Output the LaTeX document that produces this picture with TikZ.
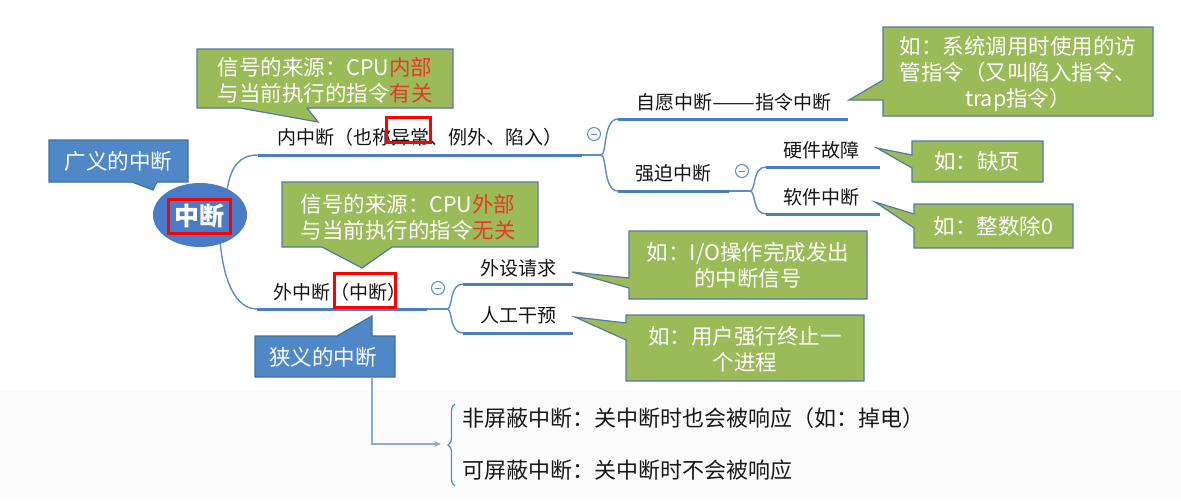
\documentclass[tikz,border=0pt]{standalone}
\usepackage{fontspec}
\usepackage{graphicx}
\setmainfont{Noto Sans CJK SC}
\usetikzlibrary{arrows.meta,decorations.pathreplacing,shapes.geometric}

\definecolor{lineblue}{HTML}{4A7EC4}
\definecolor{curveblue}{HTML}{5B8BCB}
\definecolor{calgreen}{HTML}{9BBB59}
\definecolor{calborder}{HTML}{5579A6}
\definecolor{calblue}{HTML}{4F87C7}
\definecolor{calblueborder}{HTML}{41719C}
\definecolor{rootblue}{HTML}{4A7BC6}
\definecolor{hlred}{HTML}{FF0000}
\definecolor{notered}{HTML}{E63A2B}
\definecolor{arrowgray}{HTML}{8EAAD6}
\definecolor{bggray}{HTML}{FBFBFB}

\begin{document}
\begin{tikzpicture}[x=1pt,y=-1pt,
  topic/.style={anchor=west, inner sep=0pt, font=\fontsize{19}{23}\selectfont, text=black!92},
  underline/.style={draw=lineblue, line width=3pt},
  branch/.style={draw=curveblue, line width=1.4pt},
  greenbox/.style={fill=calgreen, draw=calborder, line width=1.2pt, line join=miter},
  bluebox/.style={fill=calblue, draw=calblueborder, line width=1.2pt, line join=miter},
  notetext/.style={inner sep=0pt, align=center, text=white, font=\fontsize{21.5}{26}\selectfont},
  plaintext/.style={anchor=west, inner sep=0pt, text=black!90, font=\fontsize{22}{26}\selectfont},
  expander/.style={circle, draw=curveblue, fill=white, line width=1pt, minimum size=13pt, inner sep=0pt,
    path picture={\draw[curveblue, line width=1pt]
      ([xshift=-3pt]path picture bounding box.center) -- ([xshift=3pt]path picture bounding box.center);}},
  marker/.style={draw=hlred, line width=3pt, inner sep=0pt},
  arrowline/.style={draw=arrowgray, line width=1.5pt},
]
\useasboundingbox (0,0) rectangle (1181,501);
\fill[white] (0,0) rectangle (1181,501);
\fill[bggray] (0,390) rectangle (1181,501);

% ---------- root ----------
\node[ellipse, fill=rootblue, minimum width=94pt, minimum height=64pt, inner sep=0pt] (root) at (200,215) {};
\node[text=white, inner sep=0pt, font=\fontsize{25}{25}\selectfont\bfseries] (roottext) at (199,216) {中断};
\node[marker, minimum width=62pt, minimum height=34pt] (rootmark) at (199,216) {};

% ---------- topics ----------
\node[topic] (t1) at (277,137) {内中断（也称异常、例外、陷入）};
\coordinate (t1l) at (258,155); \coordinate (t1r) at (582,155);
\node[topic] (t2) at (636,102) {自愿中断\scalebox{1.35}[1]{——}指令中断};
\coordinate (t2l) at (618,119); \coordinate (t2r) at (848,119);
\node[topic] (t3) at (635,173) {强迫中断};
\coordinate (t3l) at (618,191); \coordinate (t3r) at (729,191);
\node[topic] (t4) at (783,150) {硬件故障};
\coordinate (t4l) at (766,167); \coordinate (t4r) at (880,167);
\node[topic] (t5) at (783,197) {软件中断};
\coordinate (t5l) at (766,214); \coordinate (t5r) at (880,214);
\node[topic] (t6) at (273,292) {外中断（中断）};
\coordinate (t6l) at (257,309); \coordinate (t6r) at (427,309);
\node[topic] (t7) at (480,268) {外设请求};
\coordinate (t7l) at (463,284); \coordinate (t7r) at (573,284);
\node[topic] (t8) at (480,315) {人工干预};
\coordinate (t8l) at (463,333); \coordinate (t8r) at (573,333);

\foreach \t in {t1,t2,t3,t4,t5,t6,t7,t8} \draw[underline] (\t l) -- (\t r);

% junctions
\coordinate (j1) at (601,155);
\coordinate (j2) at (750,191);
\coordinate (j3) at (447,309);

% ---------- connectors ----------
\draw[branch] (root.44) .. controls (231,167) and (239,155) .. (t1l);
\draw[branch] (root.-55) .. controls (224,282) and (236,309) .. (t6l);
\draw[branch] (t1r) -- (j1);
\draw[branch] (j1) .. controls (607,155) and (603,119) .. (t2l);
\draw[branch] (j1) .. controls (607,155) and (603,191) .. (t3l);
\draw[branch] (t3r) -- (j2);
\draw[branch] (j2) .. controls (756,191) and (752,167) .. (t4l);
\draw[branch] (j2) .. controls (756,191) and (752,214) .. (t5l);
\draw[branch] (t6r) -- (j3);
\draw[branch] (j3) .. controls (453,309) and (449,284) .. (t7l);
\draw[branch] (j3) .. controls (453,309) and (449,333) .. (t8l);

% collapse buttons
\node[expander] (e1) at (594,134) {};
\node[expander] (e2) at (742,171) {};
\node[expander] (e3) at (438,288) {};

% highlight frames
\node[marker, minimum width=44pt, minimum height=25pt] (mark1) at (408,129.5) {};
\node[marker, minimum width=61pt, minimum height=34pt] (mark2) at (364.5,290) {};

% ---------- blue callouts ----------
\draw[bluebox] (49,140) -- (188,140) -- (188,182) -- (157,182) -- (153,190) -- (132,182) -- (49,182) -- cycle;
\node[notetext] (broad) at (118.5,161) {广义的中断};

\draw[bluebox] (255,336) -- (337,336) -- (372,316) -- (372,336) -- (395,336) -- (395,377) -- (255,377) -- cycle;
\node[notetext] (narrow) at (323,357) {狭义的中断};

% ---------- green callouts ----------
\draw[greenbox] (197,49) -- (453,49) -- (453,108) -- (307,108) -- (318,122) -- (240,108) -- (197,108) -- cycle;
\node[notetext] (noteA) at (325,80) {信号的来源：CPU\textcolor{notered}{内部}\\与当前执行的指令\textcolor{notered}{有关}};

\draw[greenbox] (282,182) -- (538,182) -- (538,247) -- (392,247) -- (362,268) -- (322,247) -- (282,247) -- cycle;
\node[notetext] (noteB) at (408,217.5) {信号的来源：CPU\textcolor{notered}{外部}\\与当前执行的指令\textcolor{notered}{无关}};

\draw[greenbox] (883,27) -- (1153,27) -- (1153,116) -- (883,116) -- (883,100) -- (849,100) -- (883,80) -- cycle;
\node[notetext] (noteC) at (1018,74) {如：系统调用时使用的访\\管指令（又叫陷入指令、\\trap指令）};

\draw[greenbox] (912,141) -- (1043,141) -- (1043,182) -- (912,182) -- (912,168) -- (877,148) -- (912,155) -- cycle;
\node[notetext] (noteD) at (977,161.5) {如：缺页};

\draw[greenbox] (914,204) -- (1073,204) -- (1073,248) -- (914,248) -- (914,228) -- (875,202) -- (914,214) -- cycle;
\node[notetext] (noteE) at (993.5,226) {如：整数除0};

\draw[greenbox] (629,231) -- (867,231) -- (867,299) -- (629,299) -- (629,288) -- (572,272) -- (629,278) -- cycle;
\node[notetext] (noteF) at (748,265) {如：I/O操作完成发出\\的中断信号};

\draw[greenbox] (626,315) -- (864,315) -- (864,381) -- (626,381) -- (626,340) -- (575,317) -- (626,323) -- cycle;
\node[notetext] (noteG) at (745,349.5) {如：用户强行终止一\\个进程};

% ---------- narrow interrupt split ----------
\coordinate (hbase) at (372,377);
\coordinate (bracetip) at (441,444);
\draw[arrowline, -{Stealth[length=7pt,width=6pt]}] (hbase) |- (bracetip);
\coordinate (bracelow) at (455,486);
\coordinate (bracehigh) at (455,404);
\draw[draw=curveblue, line width=1.3pt, decorate, decoration={brace, amplitude=7pt}] (bracelow) -- (bracehigh);

\node[plaintext] (nmi) at (462,418) {非屏蔽中断：关中断时也会被响应（如：掉电）};
\node[plaintext] (mi) at (462,470) {可屏蔽中断：关中断时不会被响应};
\end{tikzpicture}
\end{document}
